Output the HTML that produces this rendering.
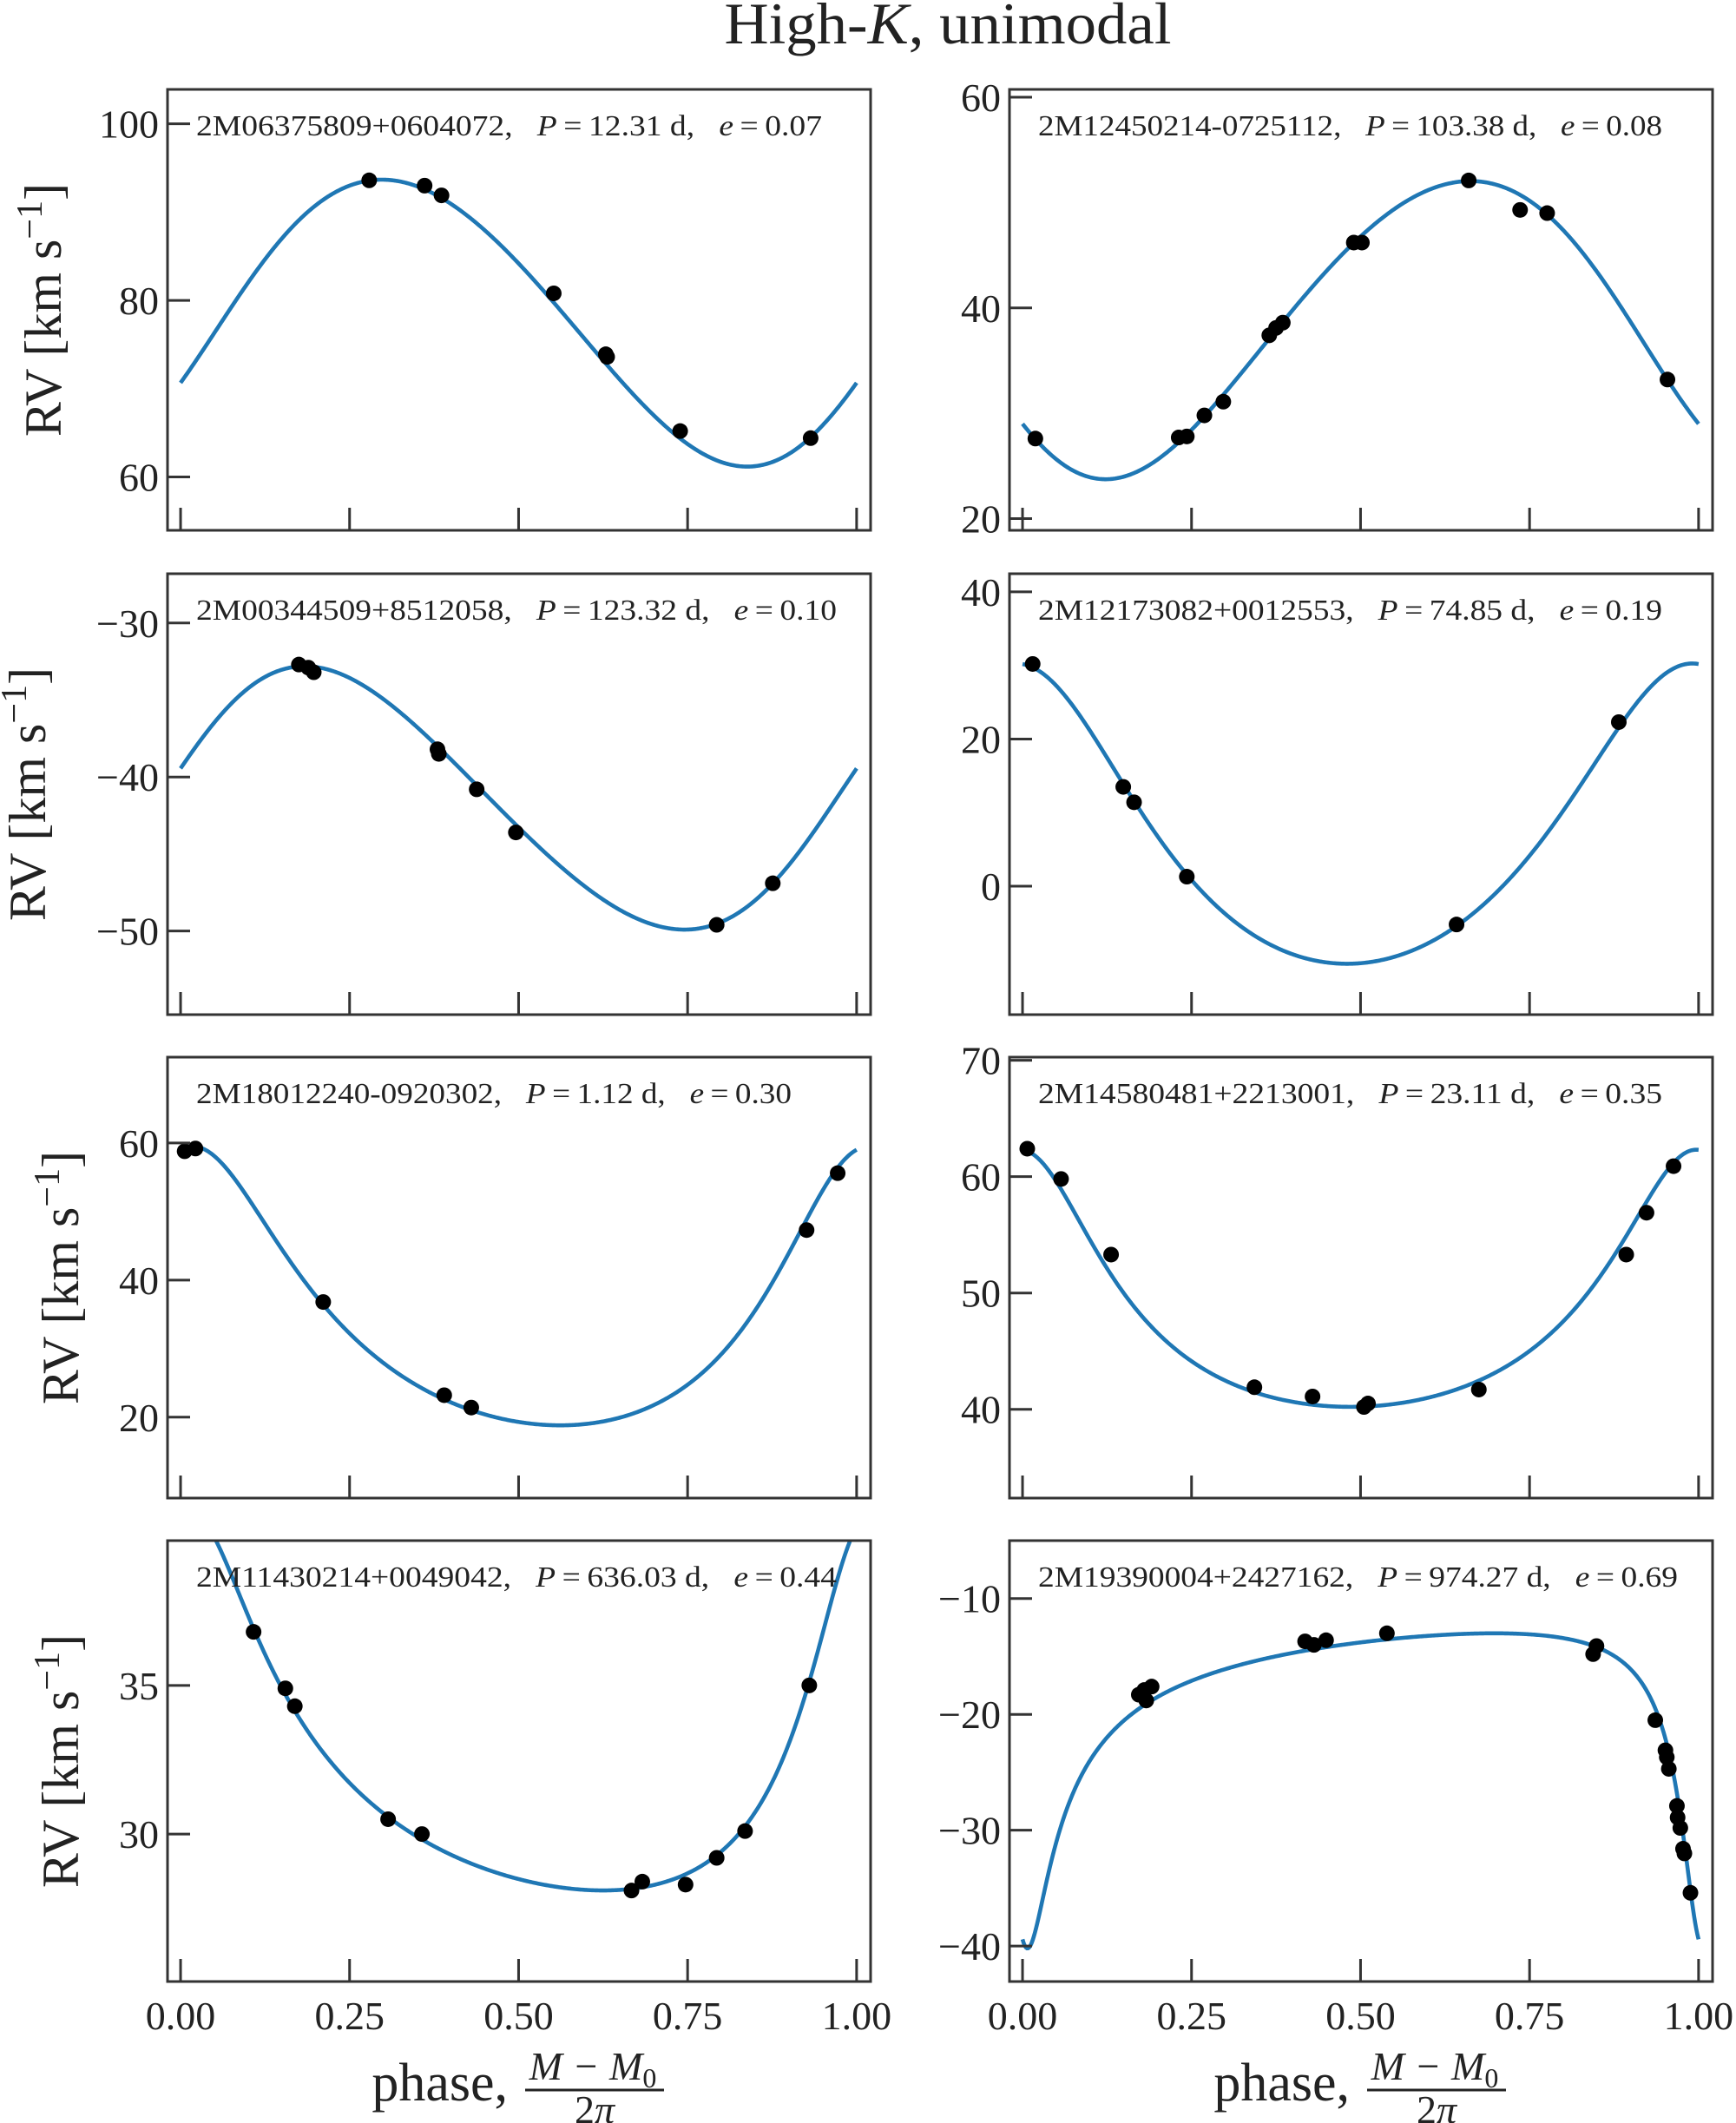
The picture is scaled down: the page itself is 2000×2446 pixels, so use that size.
<!DOCTYPE html>
<html><head><meta charset="utf-8"><style>
body{margin:0;background:#fff}
svg{display:block}
text{font-family:"Liberation Serif",serif;fill:#222}
</style></head><body>
<svg id="fig" width="2000" height="2446" xmlns="http://www.w3.org/2000/svg">
<text x="1092" y="50" font-size="68" text-anchor="middle" textLength="515" lengthAdjust="spacingAndGlyphs">High-<tspan font-style="italic">K</tspan>, unimodal</text>
<g id="panels"></g>
<g>
<text x="585" y="2420" font-size="62" text-anchor="end">phase,</text>
<text x="683" y="2396" font-size="46" text-anchor="middle" font-style="italic">M − M<tspan font-size="32" font-style="normal" dy="9">0</tspan></text>
<line x1="605" y1="2408" x2="765" y2="2408" stroke="#222" stroke-width="3"/>
<text x="685" y="2446" font-size="46" text-anchor="middle">2<tspan font-style="italic">π</tspan></text>
</g>
<g>
<text x="1555" y="2420" font-size="62" text-anchor="end">phase,</text>
<text x="1653" y="2396" font-size="46" text-anchor="middle" font-style="italic">M − M<tspan font-size="32" font-style="normal" dy="9">0</tspan></text>
<line x1="1575" y1="2408" x2="1735" y2="2408" stroke="#222" stroke-width="3"/>
<text x="1655" y="2446" font-size="46" text-anchor="middle">2<tspan font-style="italic">π</tspan></text>
</g>
</svg>
<script>
// ---- data ----
const panelIds = ["p1","p2","p3","p4","p5","p6","p7","p8"];
const starNames = ["2M06375809+0604072","2M12450214-0725112","2M00344509+8512058","2M12173082+0012553","2M18012240-0920302","2M14580481+2213001","2M11430214+0049042","2M19390004+2427162"];
const periods = ["12.31","103.38","123.32","74.85","1.12","23.11","636.03","974.27"];
const eccLabels = ["0.07","0.08","0.10","0.19","0.30","0.35","0.44","0.69"];
const eccs = [0.07,0.08,0.10,0.19,0.30,0.35,0.44,0.69];
const amplitudesK = [16.25,14.15,8.55,20.4,20.35,11.05,6.3,13.6];
const omegas = [-2.0,2.25,-1.345,0.087,-0.22,0.05,-0.35,2.8];
const systemicV0 = [77.9,38.6,-41.55,6.0,33.2,47.4,31.8,-17.76];
const yLow = [53.96,18.89,-55.43,-17.45,8.19,32.37,25.04,-43.06];
const yHigh = [103.9,60.74,-26.8,42.46,72.53,70.27,39.87,-5.0];
const yTicks = [[60,80,100],[20,40,60],[-50,-40,-30],[0,20,40],[20,40,60],[40,50,60,70],[30,35],[-40,-30,-20,-10]];
const xTicks = [0,0.25,0.5,0.75,1.0];
const xTickLabels = ["0.00","0.25","0.50","0.75","1.00"];
const phases = [
 [0.279,0.361,0.386,0.552,0.629,0.631,0.739,0.932],
 [0.019,0.231,0.243,0.269,0.297,0.365,0.375,0.385,0.490,0.502,0.660,0.736,0.776,0.954],
 [0.175,0.189,0.197,0.380,0.382,0.438,0.496,0.793,0.876],
 [0.015,0.149,0.165,0.243,0.642,0.882],
 [0.006,0.022,0.211,0.390,0.430,0.926,0.972],
 [0.007,0.057,0.131,0.343,0.429,0.505,0.511,0.675,0.893,0.923,0.963],
 [0.108,0.155,0.169,0.307,0.357,0.667,0.683,0.747,0.793,0.835,0.930],
 [0.172,0.180,0.183,0.191,0.418,0.431,0.449,0.539,0.844,0.849,0.936,0.951,0.953,0.956,0.968,0.969,0.973,0.977,0.979,0.988]
];
const rvs = [
 [93.6,93.0,91.9,80.8,73.9,73.6,65.2,64.4],
 [27.6,27.7,27.8,29.8,31.1,37.4,38.1,38.6,46.2,46.2,52.1,49.3,49.0,33.2],
 [-32.7,-32.9,-33.2,-38.2,-38.5,-40.8,-43.6,-49.6,-46.9],
 [30.2,13.5,11.4,1.3,-5.2,22.3],
 [58.8,59.2,36.8,23.2,21.4,47.3,55.6],
 [62.4,59.8,53.3,41.9,41.1,40.2,40.5,41.7,53.3,56.9,60.9],
 [36.8,34.9,34.3,30.5,30.0,28.1,28.4,28.3,29.2,30.1,35.0],
 [-18.3,-17.9,-18.8,-17.6,-13.7,-14.0,-13.6,-13.0,-14.8,-14.1,-20.5,-23.1,-23.7,-24.7,-27.9,-28.9,-29.8,-31.6,-32.0,-35.4]
];
// ---- layout ----
const colX = [193,1163], panelW = 810;
const rowY = [103,661,1218,1775], panelH = 508;
const xLo = -0.0193, xHi = 1.0207;
const ylabX = [50,32,70,70];
const annoLen = [721,719,738,719,686,719,738,737];
const NS = "http://www.w3.org/2000/svg";
function mk(tag, attrs, parent){const e=document.createElementNS(NS,tag);for(const k in attrs)e.setAttribute(k,attrs[k]);parent.appendChild(e);return e;}
function keplerRV(ph,i){
  const e=eccs[i];let M=2*Math.PI*ph;let E=M;
  for(let k=0;k<60;k++)E=E-(E-e*Math.sin(E)-M)/(1-e*Math.cos(E));
  const f=2*Math.atan2(Math.sqrt(1+e)*Math.sin(E/2),Math.sqrt(1-e)*Math.cos(E/2));
  return systemicV0[i]+amplitudesK[i]*(Math.cos(omegas[i]+f)+e*Math.cos(omegas[i]));
}
const root=document.getElementById("panels");
const defs=mk("defs",{},root);
panelIds.forEach((pid,i)=>{
  const c=i%2,r=Math.floor(i/2);
  const x0=colX[c],y0=rowY[r];
  const sx=v=>x0+(v-xLo)/(xHi-xLo)*panelW;
  const sy=v=>y0+(yHigh[i]-v)/(yHigh[i]-yLow[i])*panelH;
  const g=mk("g",{},root);
  
  
  const cp=mk("clipPath",{id:"clip"+i},defs);
  mk("rect",{x:x0,y:y0,width:panelW,height:panelH},cp);
  let d="";
  for(let k=0;k<=600;k++){const ph=k/600;d+=(k?"L":"M")+sx(ph).toFixed(2)+","+sy(keplerRV(ph,i)).toFixed(2);}
  const path=mk("path",{d:d,fill:"none",stroke:"#1f77b4","stroke-width":4.6,"clip-path":"url(#clip"+i+")"},g);
  
  
  phases[i].forEach((ph,j)=>{
    const pt=mk("circle",{cx:sx(ph),cy:sy(rvs[i][j]),r:9,fill:"#000"},g);
    
    
  });
  const fr=mk("rect",{x:x0,y:y0,width:panelW,height:panelH,fill:"none",stroke:"#333","stroke-width":3},g);
  
  
  yTicks[i].forEach(v=>{
    const y=sy(v);
    const t=mk("line",{x1:x0,x2:x0+26,y1:y,y2:y,stroke:"#333","stroke-width":3},g);
    
    
    const tl=mk("text",{x:x0-10,y:y+16,"font-size":46,"text-anchor":"end"},g);
    tl.textContent=(v<0?"−"+(-v):String(v));
    
    
  });
  xTicks.forEach((v,k)=>{
    const x=sx(v);
    const t=mk("line",{x1:x,x2:x,y1:y0+panelH,y2:y0+panelH-26,stroke:"#333","stroke-width":3},g);
    
    
    if(r===3){
      const tl=mk("text",{x:x,y:y0+panelH+55,"font-size":46,"text-anchor":"middle"},g);
      tl.textContent=xTickLabels[k];
      
      
    }
  });
  const an=mk("text",{x:x0+33,y:y0+53,"font-size":34,textLength:annoLen[i],lengthAdjust:"spacingAndGlyphs"},g);
  
  
  an.innerHTML=starNames[i]+",\u2002 <tspan font-style='italic'>P</tspan>\u2009=\u2009"+periods[i]+" d,\u2002 <tspan font-style='italic'>e</tspan>\u2009=\u2009"+eccLabels[i];
  if(c===0){
    const cy=y0+panelH/2;
    const yl=mk("text",{x:ylabX[r],y:cy,"font-size":60,"text-anchor":"middle",transform:"rotate(-90 "+ylabX[r]+" "+cy+")"},g);
    
    
    yl.setAttribute('dy','20');
    yl.innerHTML="RV [km s<tspan dy='-22' font-size='42'>−1</tspan><tspan dy='22'>]</tspan>";
  }
});
</script>
</body></html>
